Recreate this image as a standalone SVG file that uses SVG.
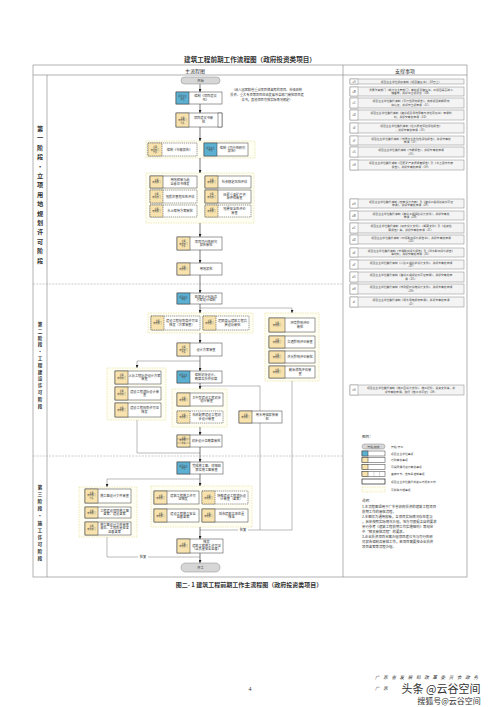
<svg xmlns="http://www.w3.org/2000/svg" width="500" height="707" viewBox="0 0 500 707">
<defs>
<style>
.frame{fill:none;stroke:#808080;stroke-width:0.6}
.sdiv{stroke:#9a9a9a;stroke-width:0.5;stroke-dasharray:2 1.2}
.box{fill:#fff;stroke:#3a3a3a;stroke-width:0.5}
.dash{stroke-dasharray:1.4 0.7}
.blue{fill:#5cb0d2;stroke:#3a3a3a;stroke-width:0.5}
.yel{fill:#f8e3ae;stroke:#3a3a3a;stroke-width:0.5}
.grp{fill:#fffef2;stroke:#e4dd92;stroke-width:0.6;stroke-dasharray:1.5 1}
.pill{fill:#d6d6d6;stroke:#888;stroke-width:0.5}
.t{font-family:"Noto Sans CJK SC","Noto Sans",sans-serif;font-size:3.2px;fill:#333;text-anchor:middle}
.c{font-size:2.1px;fill:#444}
.s{font-family:"Noto Sans CJK SC","Noto Sans",sans-serif;font-size:2.8px;fill:#444}
.item{fill:#f4f4f4;stroke:#888;stroke-width:0.5}
.num{fill:#fff;stroke:#888;stroke-width:0.5}
.ln{fill:none;stroke:#777;stroke-width:0.5}
.ar{fill:none;stroke:#222;stroke-width:0.6;marker-end:url(#a)}
.ar2{fill:none;stroke:#777;stroke-width:0.5;marker-end:url(#a)}
.h{font-family:"Noto Sans CJK SC","Noto Sans",sans-serif;fill:#333}
</style>
<marker id="a" viewBox="0 0 6 6" refX="6" refY="3" markerWidth="3" markerHeight="3" orient="auto" markerUnits="userSpaceOnUse"><path d="M0,0L6,3L0,6z" fill="#222"/></marker>
</defs>
<rect width="500" height="707" fill="#fff"/>
<text class="h" x="250" y="62" font-size="6.6" font-weight="bold" text-anchor="middle">建筑工程前期工作流程图（政府投资类项目）</text>

<g id="frame">
<rect class="frame" x="33" y="65" width="434" height="512"/>
<line class="frame" x1="33" y1="75" x2="467" y2="75"/>
<line class="frame" x1="343" y1="65" x2="343" y2="577"/>
<line class="frame" x1="47" y1="75" x2="47" y2="577"/>
<line class="sdiv" x1="33" y1="284" x2="343" y2="284"/>
<line class="sdiv" x1="33" y1="456" x2="343" y2="456"/>
<text class="h" x="195" y="72.5" font-size="5" text-anchor="middle">主流程图</text>
<text class="h" x="405" y="72.5" font-size="5" text-anchor="middle">支撑事项</text>
</g>

<g id="stages" class="h" text-anchor="middle" font-weight="bold" fill="#444">
<text x="40" y="131" font-size="6.2"><tspan x="40">第</tspan><tspan x="40" dy="9.4">一</tspan><tspan x="40" dy="9.4">阶</tspan><tspan x="40" dy="9.4">段</tspan><tspan x="40" dy="9.4">·</tspan><tspan x="40" dy="9.4">立</tspan><tspan x="40" dy="9.4">项</tspan><tspan x="40" dy="9.4">用</tspan><tspan x="40" dy="9.4">地</tspan><tspan x="40" dy="9.4">规</tspan><tspan x="40" dy="9.4">划</tspan><tspan x="40" dy="9.4">许</tspan><tspan x="40" dy="9.4">可</tspan><tspan x="40" dy="9.4">阶</tspan><tspan x="40" dy="9.4">段</tspan></text>
<text x="40" y="326" font-size="4.6"><tspan x="40">第</tspan><tspan x="40" dy="6.8">二</tspan><tspan x="40" dy="6.8">阶</tspan><tspan x="40" dy="6.8">段</tspan><tspan x="40" dy="6.8">·</tspan><tspan x="40" dy="6.8">工</tspan><tspan x="40" dy="6.8">程</tspan><tspan x="40" dy="6.8">建</tspan><tspan x="40" dy="6.8">设</tspan><tspan x="40" dy="6.8">许</tspan><tspan x="40" dy="6.8">可</tspan><tspan x="40" dy="6.8">阶</tspan><tspan x="40" dy="6.8">段</tspan></text>
<text x="40" y="489" font-size="4.8"><tspan x="40">第</tspan><tspan x="40" dy="7.1">三</tspan><tspan x="40" dy="7.1">阶</tspan><tspan x="40" dy="7.1">段</tspan><tspan x="40" dy="7.1">·</tspan><tspan x="40" dy="7.1">施</tspan><tspan x="40" dy="7.1">工</tspan><tspan x="40" dy="7.1">许</tspan><tspan x="40" dy="7.1">可</tspan><tspan x="40" dy="7.1">阶</tspan><tspan x="40" dy="7.1">段</tspan></text>
</g>

<g id="groups">
<rect class="grp" x="146" y="141" width="109" height="17"/>
<rect class="grp" x="146" y="173" width="108" height="50"/>
<rect class="grp" x="148" y="313" width="105" height="20"/>
<rect class="grp" x="265" y="313" width="54" height="68"/>
<rect class="grp" x="107" y="368" width="59" height="52"/>
<rect class="grp" x="172" y="389" width="55" height="38"/>
<rect class="grp" x="79" y="487" width="58" height="50"/>
<rect class="grp" x="151" y="486" width="101" height="41"/>
</g>

<g id="connectors">
<path class="ar" d="M200,84V92"/>
<path class="ar" d="M200,104V113"/>
<path class="ar" d="M200,127V141"/>
<path class="ar" d="M200,158V173"/>
<path class="ar" d="M200,223V237"/>
<path class="ar" d="M200,250V263"/>
<path class="ar" d="M200,275V293"/>
<path class="ar" d="M200,304V313"/>
<path class="ar2" d="M200,308H292V313"/>
<path class="ar" d="M200,333V343"/>
<path class="ar" d="M200,356V371"/>
<path class="ar2" d="M200,361H137V368"/>
<path class="ar" d="M200,383V389"/>
<path class="ln" d="M200,386H260V411"/>
<path class="ln" d="M260,423V530"/>
<path class="ar" d="M200,427V435"/>
<path class="ln" d="M292,381V530H200"/>
<path class="ln" d="M137,420V453H200"/>
<path class="ar" d="M200,447V462"/>
<path class="ar" d="M200,474V486"/>
<path class="ar2" d="M200,479H107V487"/>
<path class="ar" d="M200,527V539"/>
<path class="ln" d="M107,537V557H200"/>
<path class="ar" d="M200,553V563"/>
<rect x="238" y="528.5" width="10" height="3" fill="#fff"/>
<text class="t" x="243" y="531">批复</text>
<rect x="138" y="555.5" width="10" height="3" fill="#fff"/>
<text class="t" x="143" y="558">批复</text>
</g>

<g id="start"><rect class="pill" x="181" y="77" width="39" height="7" rx="3.5"/><text class="t" x="200.5" y="81.8">开始</text></g>

<g id="n1"><rect class="box" x="176" y="92" width="46" height="12"/><rect class="blue" x="176" y="92" width="13" height="12"/><text class="t c" x="182.5" y="97.3">项目业主<tspan x="182.5" dy="2.5">单位</tspan></text><text class="t" x="205.5" y="97.3">编制《项目建议<tspan x="205.5" dy="3.6">书》</tspan></text></g>
<g id="note1"><text class="t" x="267" y="91">（纳入国家和省重点项目储备库的项目、市级政府<tspan x="267" dy="5">投资、重大专项等项目应由发展改革部门审批项目建</tspan><tspan x="267" dy="5">议书，其他项目可按实际情况确定）</tspan></text></g>
<g id="n2"><rect class="box" x="176" y="113" width="46" height="14"/><rect class="yel" x="176" y="113" width="13" height="14"/><rect class="box" x="218" y="113" width="4" height="14"/><text class="t c" x="182.5" y="118.5">主要<tspan x="182.5" dy="2.5">审批部门</tspan><tspan x="182.5" dy="2.5">牵头</tspan></text><text class="t" x="203.5" y="119">项目建议书审<tspan x="203.5" dy="3.6">批</tspan></text></g>

<g id="n3"><rect class="box dash" x="148" y="143" width="49" height="13"/><rect class="yel dash" x="148" y="143" width="14" height="13"/><text class="t c" x="155" y="148">主要<tspan x="155" dy="2.5">审批部门</tspan><tspan x="155" dy="2.5">牵头</tspan></text><text class="t" x="179.5" y="150.8">编制《节能报告》</text></g>
<g id="n4"><rect class="box" x="204" y="143" width="44" height="13"/><rect class="blue" x="204" y="143" width="13" height="13"/><text class="t c" x="210.5" y="148.5">项目业主<tspan x="210.5" dy="2.5">单位</tspan></text><text class="t" x="232.5" y="148.8">编制《可行性研究<tspan x="232.5" dy="3.6">报告》</tspan></text></g>

<g id="n5"><rect class="box" x="150" y="176" width="47" height="12"/><rect class="yel" x="150" y="176" width="13" height="12"/><text class="t c" x="156.5" y="180.5">主要<tspan x="156.5" dy="2.5">审批部门</tspan></text><text class="t" x="180" y="181.2">用地预审与选<tspan x="180" dy="3.6">址意见书核发</tspan></text></g>
<g id="n6"><rect class="box" x="205" y="176" width="46" height="12"/><rect class="yel" x="205" y="176" width="13" height="12"/><text class="t c" x="211.5" y="180.5">主要<tspan x="211.5" dy="2.5">审批部门</tspan></text><text class="t" x="234.5" y="183">社会稳定风险评估</text></g>
<g id="n7"><rect class="box dash" x="150" y="190" width="47" height="13"/><rect class="yel dash" x="150" y="190" width="13" height="13"/><text class="t c" x="156.5" y="195">主要<tspan x="156.5" dy="2.5">审批部门</tspan></text><text class="t" x="180" y="197.5">地质灾害危险性评估</text></g>
<g id="n8"><rect class="box" x="205" y="190" width="46" height="13"/><rect class="yel" x="205" y="190" width="13" height="13"/><text class="t c" x="211.5" y="195">主要<tspan x="211.5" dy="2.5">审批部门</tspan></text><text class="t" x="234.5" y="195.8">压覆重要矿产资<tspan x="234.5" dy="3.6">源评估审查</tspan></text></g>
<g id="n9"><rect class="box dash" x="150" y="205" width="47" height="12"/><rect class="yel dash" x="150" y="205" width="13" height="12"/><text class="t c" x="156.5" y="209.5">主要<tspan x="156.5" dy="2.5">审批部门</tspan></text><text class="t" x="180" y="212">水土保持方案审批</text></g>
<g id="n10"><rect class="box dash" x="205" y="205" width="46" height="12"/><rect class="yel dash" x="205" y="205" width="13" height="12"/><text class="t c" x="211.5" y="209.5">主要<tspan x="211.5" dy="2.5">审批部门</tspan></text><text class="t" x="234.5" y="210.2">地震安全性评价<tspan x="234.5" dy="3.6">审查</tspan></text></g>

<g id="n11"><rect class="box" x="177" y="237" width="45" height="13"/><rect class="yel" x="177" y="237" width="13" height="13"/><text class="t c" x="183.5" y="242">主要<tspan x="183.5" dy="2.5">审批部门</tspan><tspan x="183.5" dy="2.5">牵头</tspan></text><text class="t" x="206" y="242.8">项目可行性研究<tspan x="206" dy="3.6">报告审批</tspan></text></g>
<g id="n12"><rect class="box" x="177" y="263" width="45" height="12"/><rect class="yel" x="177" y="263" width="13" height="12"/><text class="t c" x="183.5" y="267.5">主要<tspan x="183.5" dy="2.5">审批部门</tspan></text><text class="t" x="206" y="270">用地报批</text></g>

<g id="n13"><rect class="box" x="177" y="293" width="45" height="11"/><rect class="blue" x="177" y="293" width="13" height="11"/><text class="t c" x="183.5" y="297.5">项目业主<tspan x="183.5" dy="2.5">单位</tspan></text><text class="t" x="206" y="297.8">勘察设计招标及<tspan x="206" dy="3.6">方案设计编制</tspan></text></g>
<g id="n14"><rect class="box dash" x="151" y="316" width="49" height="14"/><rect class="yel dash" x="151" y="316" width="13" height="14"/><text class="t c" x="157.5" y="321.5">主要<tspan x="157.5" dy="2.5">审批部门</tspan></text><text class="t" x="182" y="322">建设工程规划类许可证<tspan x="182" dy="3.6">核发（方案审查）</tspan></text></g>
<g id="n15"><rect class="box dash" x="203" y="316" width="46" height="14"/><rect class="yel dash" x="203" y="316" width="13" height="14"/><text class="t c" x="209.5" y="321.5">主要<tspan x="209.5" dy="2.5">审批部门</tspan></text><text class="t" x="232.5" y="322">超限高层建筑工程抗<tspan x="232.5" dy="3.6">震设防审批</tspan></text></g>
<g id="n16"><rect class="box" x="269" y="318" width="46" height="14"/><rect class="yel" x="269" y="318" width="16" height="14"/><text class="t c" x="277" y="323.5">主要<tspan x="277" dy="2.5">审批部门</tspan></text><text class="t" x="300" y="324">环境影响评价<tspan x="300" dy="3.6">审批</tspan></text></g>
<g id="n17"><rect class="box" x="269" y="336" width="46" height="12"/><rect class="yel" x="269" y="336" width="16" height="12"/><text class="t c" x="277" y="340.5">主要<tspan x="277" dy="2.5">审批部门</tspan></text><text class="t" x="300" y="343">交通影响评价审查</text></g>
<g id="n18"><rect class="box" x="269" y="351" width="46" height="12"/><rect class="yel" x="269" y="351" width="16" height="12"/><text class="t c" x="277" y="355.5">主要<tspan x="277" dy="2.5">审批部门</tspan></text><text class="t" x="300" y="358">洪水影响评价审批</text></g>
<g id="n19"><rect class="box" x="269" y="366" width="46" height="12"/><rect class="yel" x="269" y="366" width="16" height="12"/><text class="t c" x="277" y="370.5">主要<tspan x="277" dy="2.5">审批部门</tspan></text><text class="t" x="300" y="371">能源消耗评估审<tspan x="300" dy="3.6">查</tspan></text></g>
<g id="n20"><rect class="box" x="177" y="343" width="45" height="13"/><rect class="yel" x="177" y="343" width="13" height="13"/><text class="t c" x="183.5" y="348">主要<tspan x="183.5" dy="2.5">审批部门</tspan><tspan x="183.5" dy="2.5">牵头</tspan></text><text class="t" x="206" y="350.8">设计方案审查</text></g>
<g id="n21"><rect class="box" x="115" y="371" width="46" height="13"/><rect class="yel" x="115" y="371" width="13" height="13"/><text class="t c" x="121.5" y="376">主要<tspan x="121.5" dy="2.5">审批部门</tspan></text><text class="t" x="144.5" y="376.8">人防工程防护设计方案<tspan x="144.5" dy="3.6">审查</tspan></text></g>
<g id="n22"><rect class="box" x="115" y="387" width="46" height="13"/><rect class="yel" x="115" y="387" width="13" height="13"/><text class="t c" x="121.5" y="392">主要<tspan x="121.5" dy="2.5">审批部门</tspan></text><text class="t" x="144.5" y="392.8">建设工程消防设计审<tspan x="144.5" dy="3.6">查</tspan></text></g>
<g id="n23"><rect class="box" x="115" y="403" width="46" height="14"/><rect class="yel" x="115" y="403" width="13" height="14"/><text class="t c" x="121.5" y="408.5">主要<tspan x="121.5" dy="2.5">审批部门</tspan></text><text class="t" x="144.5" y="409">建设工程规划许可证<tspan x="144.5" dy="3.6">核发</tspan></text></g>
<g id="n24"><rect class="box" x="177" y="371" width="45" height="12"/><rect class="blue" x="177" y="371" width="13" height="12"/><text class="t c" x="183.5" y="375.5">项目业主<tspan x="183.5" dy="2.5">单位</tspan></text><text class="t" x="206" y="376.2">编制初步设计、<tspan x="206" dy="3.6">概算及投资估算</tspan></text></g>
<g id="n25"><rect class="box" x="177" y="393" width="46" height="13"/><rect class="yel" x="177" y="393" width="13" height="13"/><text class="t c" x="183.5" y="398.5">主要<tspan x="183.5" dy="2.5">审批部门</tspan></text><text class="t" x="206.5" y="398.8">大中型建设工程初步<tspan x="206.5" dy="3.6">设计审查</tspan></text></g>
<g id="n26"><rect class="box dash" x="177" y="411" width="46" height="12"/><rect class="yel dash" x="177" y="411" width="13" height="12"/><text class="t c" x="183.5" y="415.5">主要<tspan x="183.5" dy="2.5">审批部门</tspan></text><text class="t" x="206.5" y="416.2">市政配套建设工程初<tspan x="206.5" dy="3.6">步设计审查</tspan></text></g>
<g id="n27"><rect class="box" x="239" y="411" width="43" height="12"/><rect class="yel" x="239" y="411" width="13" height="12"/><text class="t c" x="245.5" y="415.5">主要<tspan x="245.5" dy="2.5">审批部门</tspan></text><text class="t" x="267" y="416.2">用水用电报装审<tspan x="267" dy="3.6">批</tspan></text></g>
<g id="n28"><rect class="box" x="177" y="435" width="45" height="12"/><rect class="yel" x="177" y="435" width="13" height="12"/><line x1="177" y1="439" x2="190" y2="439" stroke="#3a3a3a" stroke-width="0.3"/><line x1="177" y1="443" x2="190" y2="443" stroke="#3a3a3a" stroke-width="0.3"/><text class="t c" x="183.5" y="438.5">主要<tspan x="183.5" dy="2.5">审批部门</tspan><tspan x="183.5" dy="2.5">牵头</tspan></text><text class="t" x="206" y="442">初步设计及概算审批</text></g>

<g id="n29"><rect class="box" x="177" y="462" width="46" height="12"/><rect class="blue" x="177" y="462" width="13" height="12"/><text class="t c" x="183.5" y="466.5">项目业主<tspan x="183.5" dy="2.5">单位</tspan></text><text class="t" x="206.5" y="467.2">完成施工图、详细勘<tspan x="206.5" dy="3.6">察及施工图审查</tspan></text></g>
<g id="n30"><rect class="box" x="85" y="489" width="46" height="14"/><rect class="yel" x="85" y="489" width="13" height="14"/><text class="t c" x="91.5" y="493.5">主要<tspan x="91.5" dy="2.5">审批部门</tspan><tspan x="91.5" dy="2.5">牵头</tspan></text><text class="t" x="114.5" y="497">施工图设计文件审查</text></g>
<g id="n31"><rect class="box" x="85" y="507" width="46" height="11"/><rect class="yel" x="85" y="507" width="13" height="11"/><text class="t c" x="91.5" y="511.5">主要<tspan x="91.5" dy="2.5">审批部门</tspan></text><text class="t" x="114.5" y="511.7">工程建设项目施工图<tspan x="114.5" dy="3.6">备案、建设备案</tspan></text></g>
<g id="n32"><rect class="box" x="85" y="522" width="46" height="13"/><rect class="yel" x="85" y="522" width="13" height="13"/><text class="t c" x="91.5" y="527">主要<tspan x="91.5" dy="2.5">审批部门</tspan></text><text class="t" x="114.5" y="525.6">施工图设计文件审查<tspan x="114.5" dy="3.5">意见、工程质量安全</tspan><tspan x="114.5" dy="3.5">监督备案</tspan></text></g>
<g id="n33"><rect class="box" x="154" y="491" width="45" height="13"/><rect class="yel" x="154" y="491" width="13" height="13"/><text class="t c" x="160.5" y="496.5">主要<tspan x="160.5" dy="2.5">审批部门</tspan></text><text class="t" x="183" y="496.8">建筑工程施工许可<tspan x="183" dy="3.6">证核发</tspan></text></g>
<g id="n34"><rect class="box dash" x="202" y="491" width="46" height="13"/><rect class="yel dash" x="202" y="491" width="13" height="13"/><text class="t c" x="208.5" y="496.5">主要<tspan x="208.5" dy="2.5">审批部门</tspan></text><text class="t" x="231.5" y="496.8">特殊建设工程消防设<tspan x="231.5" dy="3.6">计审查（备案）</tspan></text></g>
<g id="n35"><rect class="box" x="154" y="509" width="45" height="13"/><rect class="yel" x="154" y="509" width="13" height="13"/><text class="t c" x="160.5" y="514.5">主要<tspan x="160.5" dy="2.5">审批部门</tspan></text><text class="t" x="183" y="514.8">建设工程施工安全<tspan x="183" dy="3.6">监督备案</tspan></text></g>
<g id="n36"><rect class="box" x="202" y="509" width="46" height="13"/><rect class="yel" x="202" y="509" width="13" height="13"/><text class="t c" x="208.5" y="514.5">主要<tspan x="208.5" dy="2.5">审批部门</tspan></text><text class="t" x="231.5" y="514.8">城市建筑垃圾处置<tspan x="231.5" dy="3.6">核准</tspan></text></g>
<g id="n37"><rect class="box" x="177" y="539" width="46" height="14"/><rect class="yel" x="177" y="539" width="13" height="14"/><text class="t c" x="183.5" y="544.5">主要<tspan x="183.5" dy="2.5">审批部门</tspan></text><text class="t" x="206.5" y="543">核发<tspan x="206.5" dy="3.5">建筑工程施工许可证</tspan><tspan x="206.5" dy="3.5">（含质量安全监督）</tspan></text></g>
<g id="end"><rect class="pill" x="181" y="563" width="39" height="9" rx="4.5"/><text class="t" x="200.5" y="568.8">开工</text></g>

<g id="support">
<g><rect class="item" x="350" y="79" width="114" height="5"/><rect class="num" x="350" y="79" width="8" height="5"/><text class="s" x="354" y="82.5" text-anchor="middle">1A</text><text class="s" x="411" y="82.5" text-anchor="middle">项目业主单位组织编制《项目建议书》（1A已上）</text></g>
<g><rect class="item" x="350" y="87" width="114" height="9"/><rect class="num" x="350" y="87" width="8" height="9"/><text class="s" x="354" y="92.5" text-anchor="middle">1B</text><text class="s" x="411" y="90.8" text-anchor="middle">发展改革部门（或行业主管部门）审批项目建议书，对项目是否纳入<tspan x="411" dy="3.4">储备库，并提出立项意见（1B）</tspan></text></g>
<g><rect class="item" x="350" y="98" width="114" height="10"/><rect class="num" x="350" y="98" width="8" height="10"/><text class="s" x="354" y="104" text-anchor="middle">1C</text><text class="s" x="411" y="102.2" text-anchor="middle">项目业主单位委托编制《可行性研究报告》，完成项目前期研究<tspan x="411" dy="3.4">和论证，并提交立项申请（1C）</tspan></text></g>
<g><rect class="item" x="350" y="110" width="114" height="10"/><rect class="num" x="350" y="110" width="8" height="10"/><text class="s" x="354" y="116" text-anchor="middle">1D</text><text class="s" x="411" y="114.2" text-anchor="middle">项目业主单位委托编制《建设项目用地预审与选址意见书》申请材<tspan x="411" dy="3.4">料，并提交审批申请（1D）</tspan></text></g>
<g><rect class="item" x="350" y="123" width="114" height="10"/><rect class="num" x="350" y="123" width="8" height="10"/><text class="s" x="354" y="129" text-anchor="middle">1E</text><text class="s" x="411" y="127.2" text-anchor="middle">项目业主单位委托编制《社会稳定风险评估报告》<tspan x="411" dy="3.4">，并提交审批申请（1E）</tspan></text></g>
<g><rect class="item" x="350" y="136" width="114" height="9"/><rect class="num" x="350" y="136" width="8" height="9"/><text class="s" x="354" y="141.5" text-anchor="middle">1F</text><text class="s" x="411" y="139.8" text-anchor="middle">项目业主单位委托编制《地质灾害危险性评估报告》，并提交审批<tspan x="411" dy="3.4">申请（1F）</tspan></text></g>
<g><rect class="item" x="350" y="147" width="114" height="10"/><rect class="num" x="350" y="147" width="8" height="10"/><text class="s" x="354" y="153" text-anchor="middle">1G</text><text class="s" x="411" y="151.2" text-anchor="middle">项目业主单位委托编制《节能报告》，并提交审批申请<tspan x="411" dy="3.4">（1G）</tspan></text></g>
<g><rect class="item" x="350" y="160" width="114" height="10"/><rect class="num" x="350" y="160" width="8" height="10"/><text class="s" x="354" y="166" text-anchor="middle">1H</text><text class="s" x="411" y="164.2" text-anchor="middle">项目业主单位委托编制《压覆矿产资源调查报告》及《水土保持方案<tspan x="411" dy="3.4">报告》，并提交审批申请（1H）</tspan></text></g>
<g><rect class="item" x="350" y="199" width="114" height="9"/><rect class="num" x="350" y="199" width="8" height="9"/><text class="s" x="354" y="204.5" text-anchor="middle">2A</text><text class="s" x="411" y="202.8" text-anchor="middle">项目业主单位委托编制《勘察设计方案》及《建设工程规划类许可证<tspan x="411" dy="3.4">申请》，并提交审批申请（2A）</tspan></text></g>
<g><rect class="item" x="350" y="211" width="114" height="9"/><rect class="num" x="350" y="211" width="8" height="9"/><text class="s" x="354" y="216.5" text-anchor="middle">2B</text><text class="s" x="411" y="214.8" text-anchor="middle">项目业主单位委托编制《建设工程消防设计文件》，并提交审批<tspan x="411" dy="3.4">申请（2B）</tspan></text></g>
<g><rect class="item" x="350" y="223" width="114" height="10"/><rect class="num" x="350" y="223" width="8" height="10"/><text class="s" x="354" y="229" text-anchor="middle">2C</text><text class="s" x="411" y="227.2" text-anchor="middle">项目业主单位委托编制《初步设计文件》、《概算文件》及《投资估<tspan x="411" dy="3.4">算报告》等，并提交审批申请（2C）</tspan></text></g>
<g><rect class="item" x="350" y="235" width="114" height="9"/><rect class="num" x="350" y="235" width="8" height="9"/><text class="s" x="354" y="240.5" text-anchor="middle">2D</text><text class="s" x="411" y="238.8" text-anchor="middle">项目业主单位委托编制《环境影响评价报告书》，并提交审批申请<tspan x="411" dy="3.4">（2D）</tspan></text></g>
<g><rect class="item" x="350" y="248" width="114" height="9"/><rect class="num" x="350" y="248" width="8" height="9"/><text class="s" x="354" y="253.5" text-anchor="middle">2E</text><text class="s" x="411" y="251.8" text-anchor="middle">项目业主单位委托编制《交通影响评价报告》及《洪水影响评价报告》<tspan x="411" dy="3.4">等材料，并提交审批申请（2E）</tspan></text></g>
<g><rect class="item" x="350" y="260" width="114" height="9"/><rect class="num" x="350" y="260" width="8" height="9"/><text class="s" x="354" y="265.5" text-anchor="middle">2F</text><text class="s" x="411" y="263.8" text-anchor="middle">项目业主单位委托编制《人防工程防护设计文件》，并提交审批申请<tspan x="411" dy="3.4">（2F）</tspan></text></g>
<g><rect class="item" x="350" y="272" width="114" height="10"/><rect class="num" x="350" y="272" width="8" height="10"/><text class="s" x="354" y="278" text-anchor="middle">2G</text><text class="s" x="411" y="276.2" text-anchor="middle">项目业主单位委托编制《建设工程规划许可证申请》，并提交审批申<tspan x="411" dy="3.4">请（2G）</tspan></text></g>
<g><rect class="item" x="350" y="284" width="114" height="10"/><rect class="num" x="350" y="284" width="8" height="10"/><text class="s" x="354" y="290" text-anchor="middle">2H</text><text class="s" x="411" y="288.2" text-anchor="middle">项目业主单位委托编制《市政配套设施设计文件》，并提交审批申请<tspan x="411" dy="3.4">（2H）</tspan></text></g>
<g><rect class="item" x="350" y="297" width="114" height="10"/><rect class="num" x="350" y="297" width="8" height="10"/><text class="s" x="354" y="303" text-anchor="middle">2I</text><text class="s" x="411" y="301.2" text-anchor="middle">项目业主单位委托编制《用水用电报装申请》，并提交审批申请<tspan x="411" dy="3.4">（2I）</tspan></text></g>
<g><rect class="item" x="350" y="385" width="114" height="10"/><rect class="num" x="350" y="385" width="8" height="10"/><text class="s" x="354" y="391" text-anchor="middle">3A</text><text class="s" x="411" y="389.2" text-anchor="middle">项目业主单位委托编制《施工图设计文件》、施工招标、投资文件等，并<tspan x="411" dy="3.4">提交审批申请，取得《施工许可证》（3A）</tspan></text></g>
</g>

<g id="legend">
<text class="h" x="362" y="438" font-size="3.6">图例：</text>
<rect class="pill" x="362" y="444" width="23" height="5" rx="2.5"/><text class="s" x="373.5" y="447.5" text-anchor="middle">开始/结束</text><text class="s" x="391" y="447.5">开始/开工</text>
<rect class="box" x="362" y="451" width="23" height="5"/><rect class="blue" x="362" y="451" width="6" height="5"/><text class="s" x="391" y="454.5">项目业主单位事项</text>
<rect class="box" x="362" y="457.5" width="23" height="5" stroke="#bbb"/><rect class="yel" x="362" y="457.5" width="6" height="5" stroke="#bbb"/><text class="s" x="391" y="461">行政审批事项</text>
<rect class="box" x="362" y="464.5" width="23" height="5" stroke="#bbb"/><rect class="yel" x="362" y="464.5" width="6" height="5" stroke="#bbb"/><text class="s" x="391" y="468">可视同情况进行审批事项</text>
<rect class="box" x="362" y="471.5" width="23" height="5" stroke="#bbb"/><rect class="yel" x="362" y="471.5" width="6" height="5" stroke="#bbb"/><line x1="374" y1="471.5" x2="374" y2="476.5" stroke="#999" stroke-width="0.4"/><line x1="379.5" y1="471.5" x2="379.5" y2="476.5" stroke="#999" stroke-width="0.4"/><text class="s" x="391" y="475">备案环节，告知承诺制事项</text>
<rect x="362" y="479" width="23" height="5" fill="#fff" stroke="#222" stroke-width="0.7"/><text class="s" x="391" y="482.5">项目业主单位委托的第三方服务工作</text>
<rect class="grp" x="362" y="487" width="23" height="5"/><text class="s" x="391" y="490.5">可并联办理事项</text>
</g>
<g id="notes" class="h" font-size="3.4" fill="#444">
<text x="362" y="502">说明：</text>
<text x="362" y="507.5">1.本流程图适用于广东省政府投资的建筑工程项目</text>
<text x="362" y="512.5">前期工作的审批流程。</text>
<text x="362" y="517.5">2.本图仅为通用模板，各项目实际情况存在差异</text>
<text x="362" y="522.5">，具体按照实际情况办理，地方可根据各自的要求</text>
<text x="362" y="527.5">另行参考《建筑工程前期工作实施细则》等规定</text>
<text x="362" y="532.5">中“相关审批流程”的要求。</text>
<text x="362" y="537.5">3.企业投资项目无需办理项目建议书与可行性研</text>
<text x="362" y="542.5">究报告编制及审批工作，若项目需要按企业投资</text>
<text x="362" y="547.5">项目备案等流程办理。</text>
</g>

<text class="h" x="249" y="587" font-size="6" font-weight="bold" text-anchor="middle">图二- 1 建筑工程前期工作主流程图（政府投资类项目）</text>
<text x="250" y="691" font-family="Liberation Serif, serif" font-size="6" fill="#333" text-anchor="middle">4</text>
<g id="watermark">
<text class="h" x="375" y="679" font-size="4.5" fill="#bbb" font-style="italic" letter-spacing="3.7">广东省发展和改革委员会政务</text>
<text class="h" x="375" y="690" font-size="4.5" fill="#bbb" font-style="italic" letter-spacing="3.7">广东</text>
<text class="h" x="441" y="693" font-size="11" fill="#222" stroke="#fff" stroke-width="0.6" paint-order="stroke" text-anchor="middle">头条 @云谷空间</text>
<text class="h" x="449" y="704" font-size="8" fill="#999" text-anchor="middle">搜狐号@云谷空间</text>
</g>
</svg>
